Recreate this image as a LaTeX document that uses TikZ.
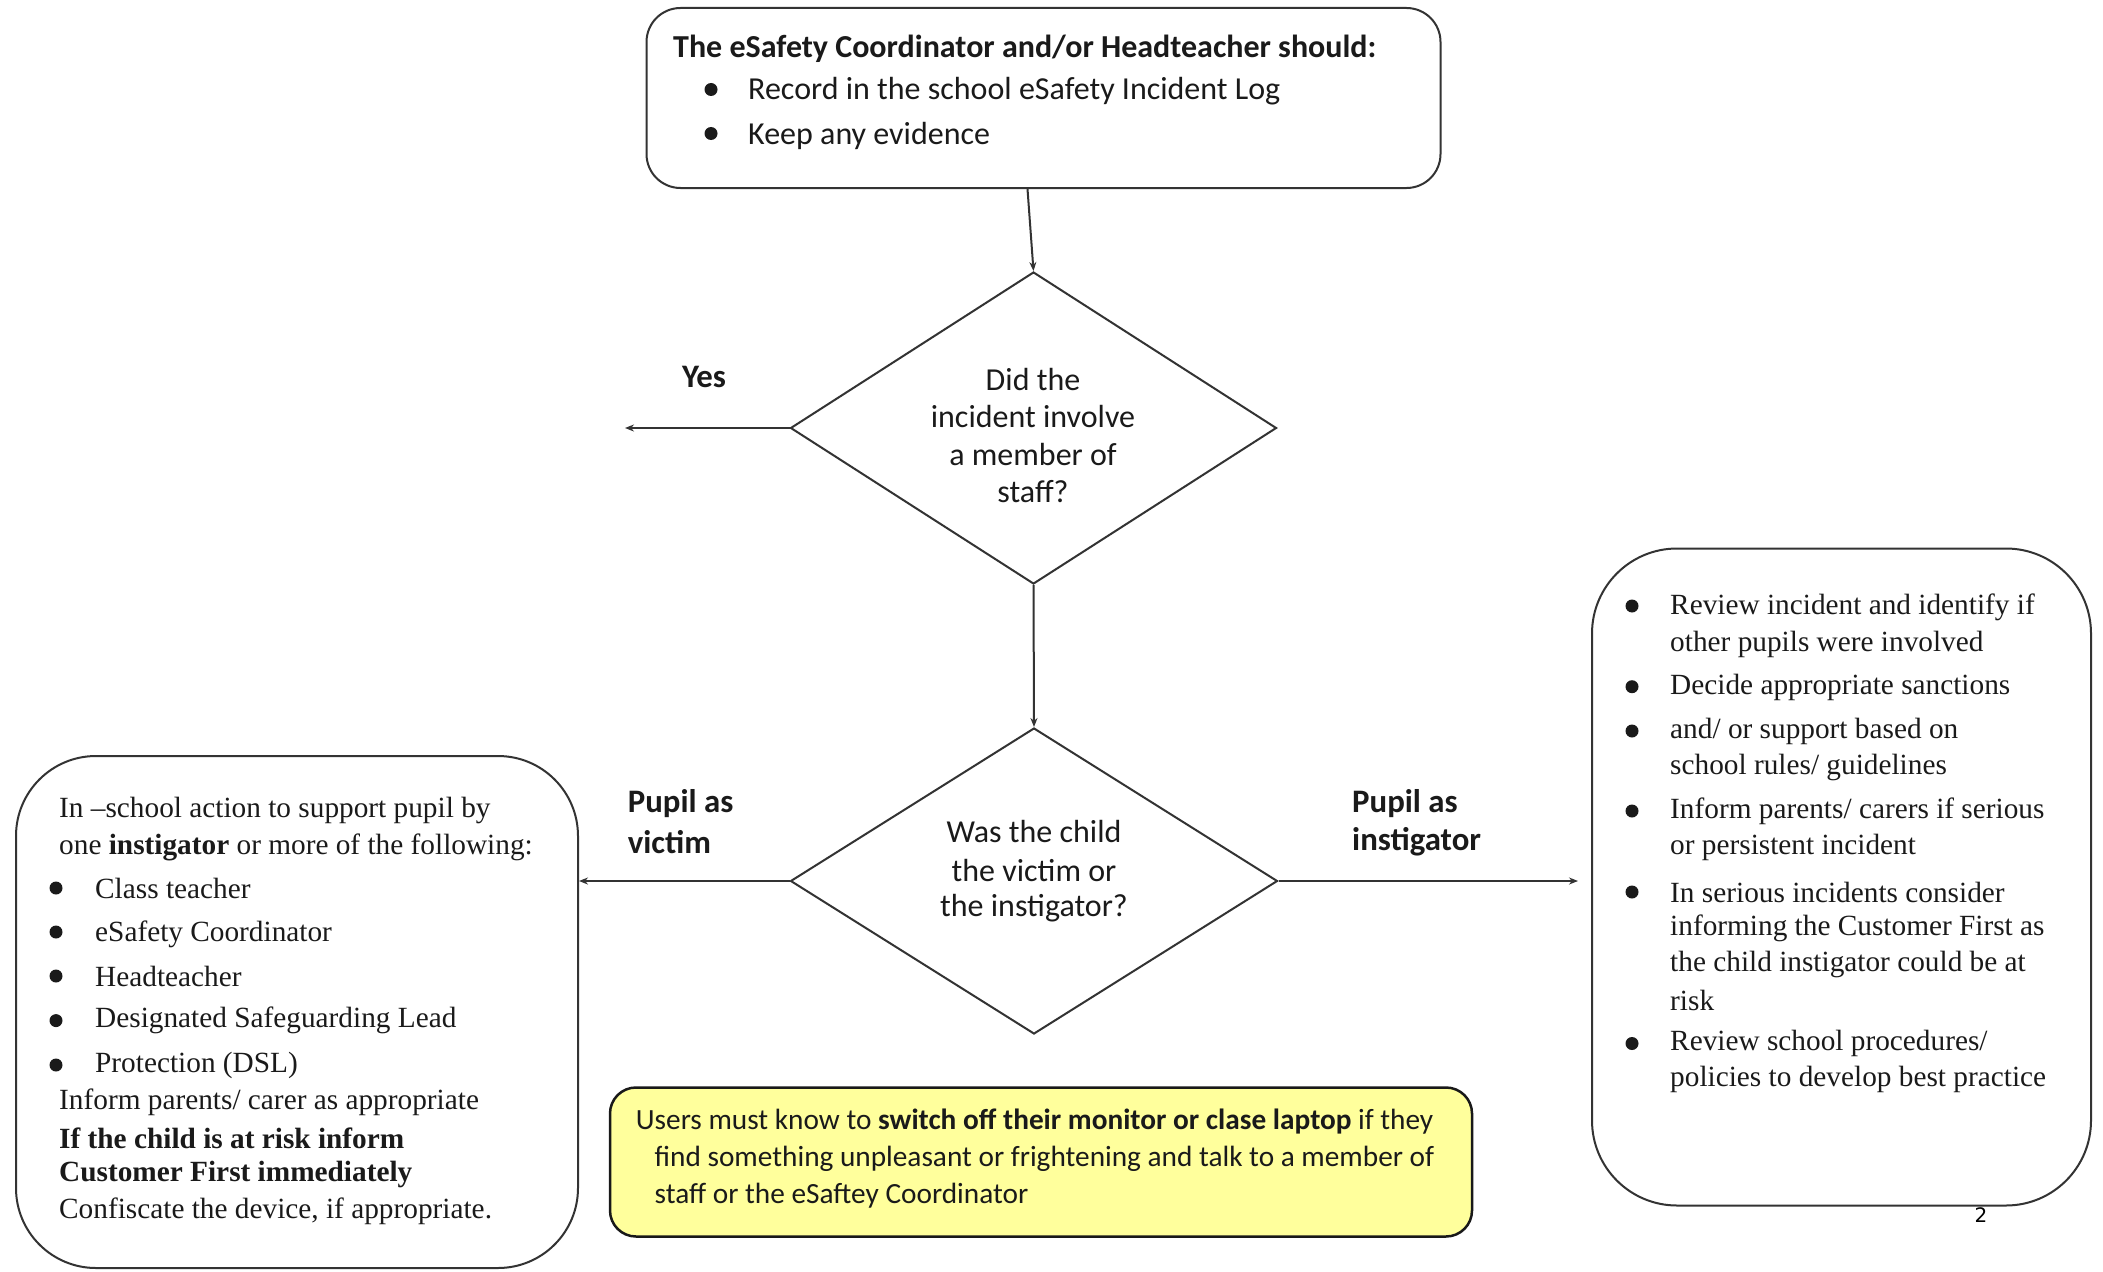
\documentclass[tikz,border=0pt]{standalone}
\usepackage{fontspec}
\setmainfont{Liberation Serif}
\newfontfamily\calfont{Carlito}
\newfontfamily\dvfont{DejaVu Sans}
\usetikzlibrary{shapes.geometric,arrows.meta}
\definecolor{ln}{HTML}{333333}
\definecolor{tx}{HTML}{1A1A1A}
\definecolor{note}{HTML}{FFFF9C}
\begin{document}
\begin{tikzpicture}[x=1pt,y=-1pt,
  box/.style={draw=ln, line width=2pt, inner sep=0pt},
  dia/.style={draw=ln, diamond, line width=2pt, inner sep=0pt},
  cal/.style={font=\calfont\fontsize{32}{38}\selectfont, text=tx, inner sep=0pt},
  lab/.style={font=\calfont\bfseries\fontsize{32.8}{38}\selectfont, text=tx, inner sep=0pt},
  notetxt/.style={font=\calfont\fontsize{29.3}{34}\selectfont, text=tx, inner sep=0pt},
  ser/.style={font=\fontsize{29.3}{34}\selectfont, text=tx, inner sep=0pt},
  arr/.style={draw=ln, line width=2pt, -{Stealth[length=9pt,width=7pt]}},
  bul/.style={fill=tx}
]
\useasboundingbox (0,0) rectangle (2103,1271);
\fill[white] (0,0) rectangle (2103,1271);

% boxes
\node[box, rounded corners=34pt, minimum width=794pt, minimum height=180pt] (topbox) at (1043.5,98) {};
\node[dia, minimum width=486pt, minimum height=312pt] (d1) at (1033.5,428) {};
\node[dia, minimum width=487pt, minimum height=306pt] (d2) at (1034,881) {};
\node[box, rounded corners=80pt, minimum width=562pt, minimum height=512pt] (leftbox) at (297,1012) {};
\node[box, rounded corners=85pt, minimum width=499pt, minimum height=657pt] (rightbox) at (1841.5,877) {};
\node[box, draw=black!90, line width=2.5pt, fill=note, rounded corners=26pt, minimum width=862pt, minimum height=149pt] (notebox) at (1041,1162) {};

% top box text
\node[cal, anchor=west] (t0) at (673,48.5) {\bfseries The eSafety Coordinator and/or Headteacher should:};
\fill[bul] (711,89.5) circle (6.5);
\node[cal, anchor=west] (t1) at (748,91.5) {Record in the school eSafety Incident Log};
\fill[bul] (711,133.5) circle (6.5);
\node[cal, anchor=west] (t2) at (748,135.5) {Keep any evidence};

% diamond texts
\node[cal] (q1a) at (1033,379.6) {Did the};
\node[cal] (q1b) at (1033,417) {incident involve};
\node[cal] (q1c) at (1033,454.7) {a member of};
\node[cal] (q1d) at (1033,492) {staff?};
\node[cal] (q2a) at (1034,831.5) {Was the child};
\node[cal] (q2b) at (1034,870.4) {the victim or};
\node[cal] (q2c) at (1034,908) {the instigator?};

% connectors
\coordinate (yesend) at (625,428);
\draw[arr] ([xshift=-16pt]topbox.south) -- (d1.north);
\draw[arr] (d1.west) -- (yesend);
\draw[arr] (d1.south) -- (d2.north);
\draw[arr] (d2.west) -- (leftbox.east |- d2.west);
\draw[arr] (d2.east) -- ([xshift=-13pt]rightbox.west |- d2.east);

% labels
\node[lab] (yes) at (704,377) {Yes};
\node[lab, anchor=west] (pv1) at (627.7,804) {Pupil as};
\node[lab, anchor=west] (pv2) at (627.7,842) {victim};
\node[lab, anchor=west] (pi1) at (1352,804) {Pupil as};
\node[lab, anchor=west] (pi2) at (1352,842) {instigator};

% left box text
\node[ser, anchor=west] (l1) at (59,810.7) {In –school action to support pupil by};
\node[ser, anchor=west] (l2) at (59,847) {one \textbf{instigator} or more of the following:};
\fill[bul] (56,888) circle (6.5);
\node[ser, anchor=west] (l3) at (95,888) {Class teacher};
\fill[bul] (56,932) circle (6.5);
\node[ser, anchor=west] (l4) at (95,934) {eSafety Coordinator};
\fill[bul] (56,976) circle (6.5);
\node[ser, anchor=west] (l5) at (95,976) {Headteacher};
\fill[bul] (56,1020.6) circle (6.5);
\node[ser, anchor=west] (l6) at (95,1020.6) {Designated Safeguarding Lead};
\fill[bul] (56,1065) circle (6.5);
\node[ser, anchor=west] (l7) at (95,1065) {Protection (DSL)};
\node[ser, anchor=west] (l8) at (59,1102) {Inform parents/ carer as appropriate};
\node[ser, anchor=west] (l9) at (59,1138) {\bfseries If the child is at risk inform};
\node[ser, anchor=west] (l10) at (59,1174.5) {\bfseries Customer First immediately};
\node[ser, anchor=west] (l11) at (59,1210.8) {Confiscate the device, if appropriate.};

% right box text
\fill[bul] (1632,606) circle (6.5);
\node[ser, anchor=west] (r1) at (1670,607) {Review incident and identify if};
\node[ser, anchor=west] (r2) at (1670,644) {other pupils were involved};
\fill[bul] (1632,686.7) circle (6.5);
\node[ser, anchor=west] (r3) at (1670,687.7) {Decide appropriate sanctions};
\fill[bul] (1632,731) circle (6.5);
\node[ser, anchor=west] (r4) at (1670,731) {and/ or support based on};
\node[ser, anchor=west] (r5) at (1670,767) {school rules/ guidelines};
\fill[bul] (1632,811) circle (6.5);
\node[ser, anchor=west] (r6) at (1670,811) {Inform parents/ carers if serious};
\node[ser, anchor=west] (r7) at (1670,847.6) {or persistent incident};
\fill[bul] (1632,892) circle (6.5);
\node[ser, anchor=west] (r8) at (1670,892) {In serious incidents consider};
\node[ser, anchor=west] (r9) at (1670,928) {informing the Customer First as};
\node[ser, anchor=west] (r10) at (1670,964) {the child instigator could be at};
\node[ser, anchor=west] (r11) at (1670,1000.5) {risk};
\fill[bul] (1632,1043.5) circle (6.5);
\node[ser, anchor=west] (r12) at (1670,1043.5) {Review school procedures/};
\node[ser, anchor=west] (r13) at (1670,1079.7) {policies to develop best practice};

\node[font=\dvfont\fontsize{20}{24}\selectfont, inner sep=0pt] (pg) at (1981,1215) {2};

% note text
\node[notetxt, anchor=west] (n1) at (635.7,1122) {Users must know to \textbf{switch off their monitor or clase laptop} if they};
\node[notetxt, anchor=west] (n2) at (654.5,1158.5) {find something unpleasant or frightening and talk to a member of};
\node[notetxt, anchor=west] (n3) at (654.5,1196) {staff or the eSaftey Coordinator};
\end{tikzpicture}
\end{document}
